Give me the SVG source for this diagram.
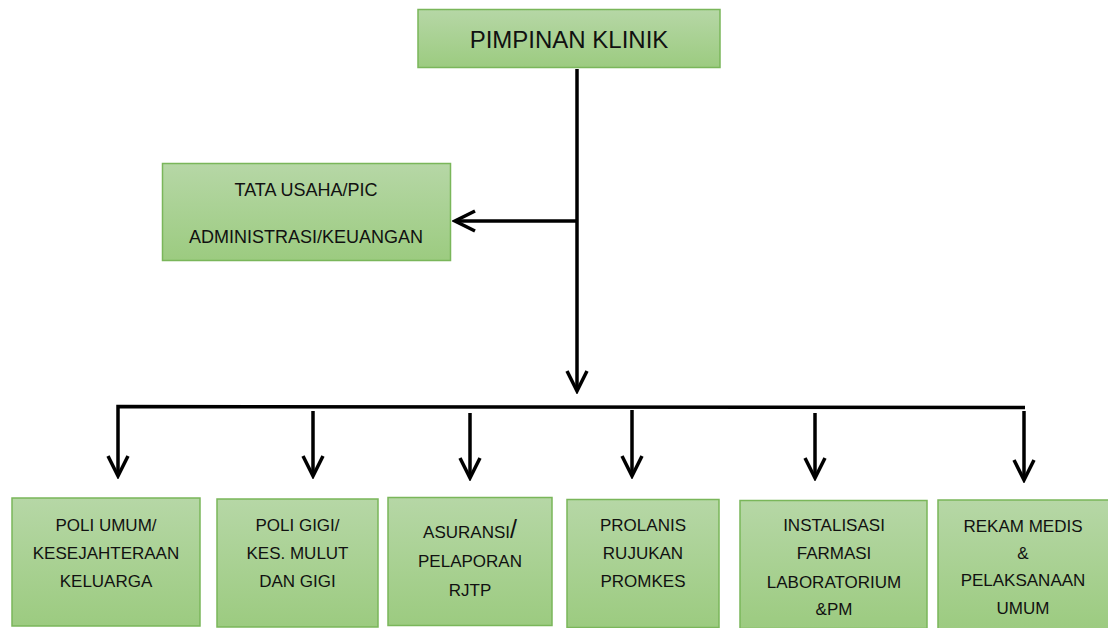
<svg xmlns="http://www.w3.org/2000/svg" width="1108" height="628" viewBox="0 0 1108 628">
  <style>
    .box { fill: url(#g); stroke: #7ab65a; stroke-width: 1.5; }
    .t { font-family: "Liberation Sans", Arial, sans-serif; fill: #111; text-anchor: middle; }
    .s17 { font-size: 17px; }
    .s18 { font-size: 18px; }
    .s24 { font-size: 24px; }
    .ln { stroke: #000; stroke-width: 3.5; fill: none; }
  </style>
  <defs>
    <linearGradient id="g" x1="0" y1="0" x2="0" y2="1">
      <stop offset="0" stop-color="#b6d7a6"/>
      <stop offset="1" stop-color="#9ccb80"/>
    </linearGradient>
    <marker id="arr" viewBox="-24 -13 27 26" markerWidth="27" markerHeight="26" refX="0" refY="0" markerUnits="userSpaceOnUse" orient="auto">
      <path d="M-20,-10 L0,0 L-20,10" fill="none" stroke="#000" stroke-width="3.5"/>
    </marker>
  </defs>

  <g id="connectors">
    <line class="ln" x1="577" y1="69" x2="577" y2="391" marker-end="url(#arr)"/>
    <line class="ln" x1="577" y1="221" x2="455" y2="221" marker-end="url(#arr)"/>
    <path class="ln" d="M1025,407.5 L118,406.5 L118,476" marker-end="url(#arr)"/>
    <line class="ln" x1="313" y1="411" x2="313" y2="476" marker-end="url(#arr)"/>
    <line class="ln" x1="470" y1="413" x2="470" y2="478" marker-end="url(#arr)"/>
    <line class="ln" x1="632" y1="410" x2="632" y2="476" marker-end="url(#arr)"/>
    <line class="ln" x1="815" y1="413" x2="815" y2="478" marker-end="url(#arr)"/>
    <line class="ln" x1="1024" y1="411" x2="1024" y2="480" marker-end="url(#arr)"/>
  </g>

  <g id="pimpinan">
    <rect class="box" x="418" y="9.5" width="302" height="58"/>
    <text class="t s24" x="569" y="48">PIMPINAN KLINIK</text>
  </g>

  <g id="tata-usaha">
    <rect class="box" x="162.5" y="163.5" width="288" height="97"/>
    <text class="t s18" x="306" y="196">TATA USAHA/PIC</text>
    <text class="t s18" x="306" y="243">ADMINISTRASI/KEUANGAN</text>
  </g>

  <g id="poli-umum">
    <rect class="box" x="12" y="498" width="188" height="128"/>
    <text class="t s17" x="106" y="531">POLI UMUM/</text>
    <text class="t s17" x="106" y="559">KESEJAHTERAAN</text>
    <text class="t s17" x="106" y="587">KELUARGA</text>
  </g>

  <g id="poli-gigi">
    <rect class="box" x="217" y="499" width="161" height="128"/>
    <text class="t s17" x="297.5" y="531">POLI GIGI/</text>
    <text class="t s17" x="297.5" y="559">KES. MULUT</text>
    <text class="t s17" x="297.5" y="587">DAN GIGI</text>
  </g>

  <g id="asuransi">
    <rect class="box" x="388" y="497.5" width="164" height="128"/>
    <text class="t s17" x="470" y="538">ASURANSI<tspan font-size="25px">/</tspan></text>
    <text class="t s17" x="470" y="567">PELAPORAN</text>
    <text class="t s17" x="470" y="596">RJTP</text>
  </g>

  <g id="prolanis">
    <rect class="box" x="567" y="499.5" width="152" height="128"/>
    <text class="t s17" x="643" y="531">PROLANIS</text>
    <text class="t s17" x="643" y="559">RUJUKAN</text>
    <text class="t s17" x="643" y="587">PROMKES</text>
  </g>

  <g id="instalasi">
    <rect class="box" x="740" y="500.5" width="187" height="128"/>
    <text class="t s17" x="834" y="531">INSTALISASI</text>
    <text class="t s17" x="834" y="559">FARMASI</text>
    <text class="t s17" x="834" y="588">LABORATORIUM</text>
    <text class="t s17" x="834" y="615">&amp;PM</text>
  </g>

  <g id="rekam-medis">
    <rect class="box" x="938" y="500" width="172" height="130"/>
    <text class="t s17" x="1023" y="532">REKAM MEDIS</text>
    <text class="t s17" x="1023" y="559">&amp;</text>
    <text class="t s17" x="1023" y="586">PELAKSANAAN</text>
    <text class="t s17" x="1023" y="614">UMUM</text>
  </g>
</svg>
